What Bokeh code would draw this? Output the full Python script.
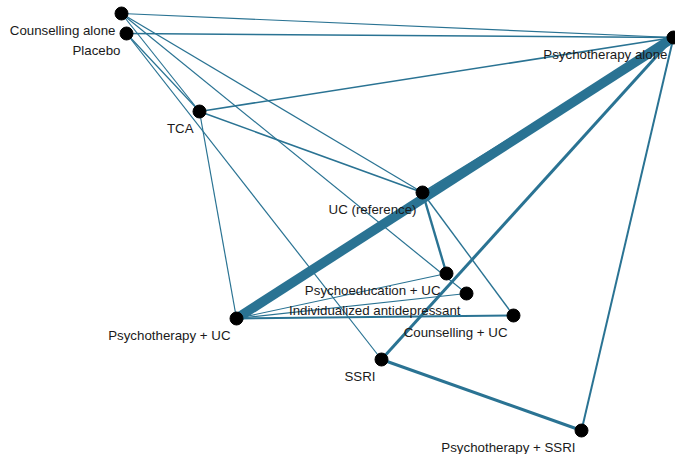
from bokeh.plotting import figure
from bokeh.models import ColumnDataSource, Range1d
from bokeh.core.properties import value
from bokeh.embed import file_html
from bokeh.resources import INLINE

# Treatments (network nodes) and their layout positions
nodes = ["Counselling alone", "Placebo", "Psychotherapy alone", "TCA",
         "UC (reference)", "Psychoeducation + UC", "Individualized antidepressant",
         "Psychotherapy + UC", "Counselling + UC", "SSRI", "Psychotherapy + SSRI"]
node_x = [121, 126, 673, 199, 422, 446, 466, 236, 513, 381, 581]
node_y = [13, 33, 37, 111, 192, 273, 293, 318, 315, 359, 430]

# Direct comparisons (edges) and their weights (line widths ~ number of studies)
edge_from = ["Counselling alone", "Placebo", "Counselling alone", "Counselling alone",
             "Counselling alone", "Placebo", "Placebo", "TCA", "TCA", "TCA",
             "Psychotherapy + UC", "UC (reference)", "UC (reference)", "UC (reference)",
             "Psychotherapy + UC", "Psychotherapy + UC", "Psychotherapy + UC",
             "SSRI", "SSRI", "Psychotherapy + SSRI"]
edge_to = ["Psychotherapy alone", "Psychotherapy alone", "UC (reference)",
           "Individualized antidepressant", "TCA", "TCA", "SSRI",
           "Psychotherapy alone", "UC (reference)", "Psychotherapy + UC",
           "Psychotherapy alone", "Psychotherapy alone", "Psychoeducation + UC",
           "Counselling + UC", "Psychoeducation + UC", "Individualized antidepressant",
           "Counselling + UC", "Psychotherapy alone", "Psychotherapy + SSRI",
           "Psychotherapy alone"]
edge_w = [1.2, 1.5, 1.2, 1.2, 1.2, 1.2, 1.2, 1.6, 1.6, 1.2,
          9.5, 1.5, 2.4, 1.4, 1.2, 1.2, 2.0, 3.0, 3.0, 2.0]

pos = {n: (x, y) for n, x, y in zip(nodes, node_x, node_y)}
esrc = ColumnDataSource(dict(
    x0=[pos[a][0] for a in edge_from], y0=[pos[a][1] for a in edge_from],
    x1=[pos[b][0] for b in edge_to], y1=[pos[b][1] for b in edge_to],
    w=edge_w))
nsrc = ColumnDataSource(dict(x=node_x, y=node_y, name=nodes))

p = figure(width=675, height=454, output_backend="svg", toolbar_location=None,
           x_range=Range1d(0, 675), y_range=Range1d(454, 0),
           min_border=0, outline_line_color=None)
p.axis.visible = False
p.grid.visible = False

p.segment("x0", "y0", "x1", "y1", source=esrc, line_width="w",
          line_color="#2a7393", line_cap="butt")
p.scatter("x", "y", source=nsrc, size=13, fill_color="black", line_color="black")
p.text("x", "y", text="name", source=nsrc, x_offset=-6, y_offset=9,
       text_align="right", text_baseline="top", text_font_size="13.3px",
       text_font=value("Liberation Sans"), text_color="#1a1a1a")

open("out.html", "w").write(file_html(p, INLINE))
